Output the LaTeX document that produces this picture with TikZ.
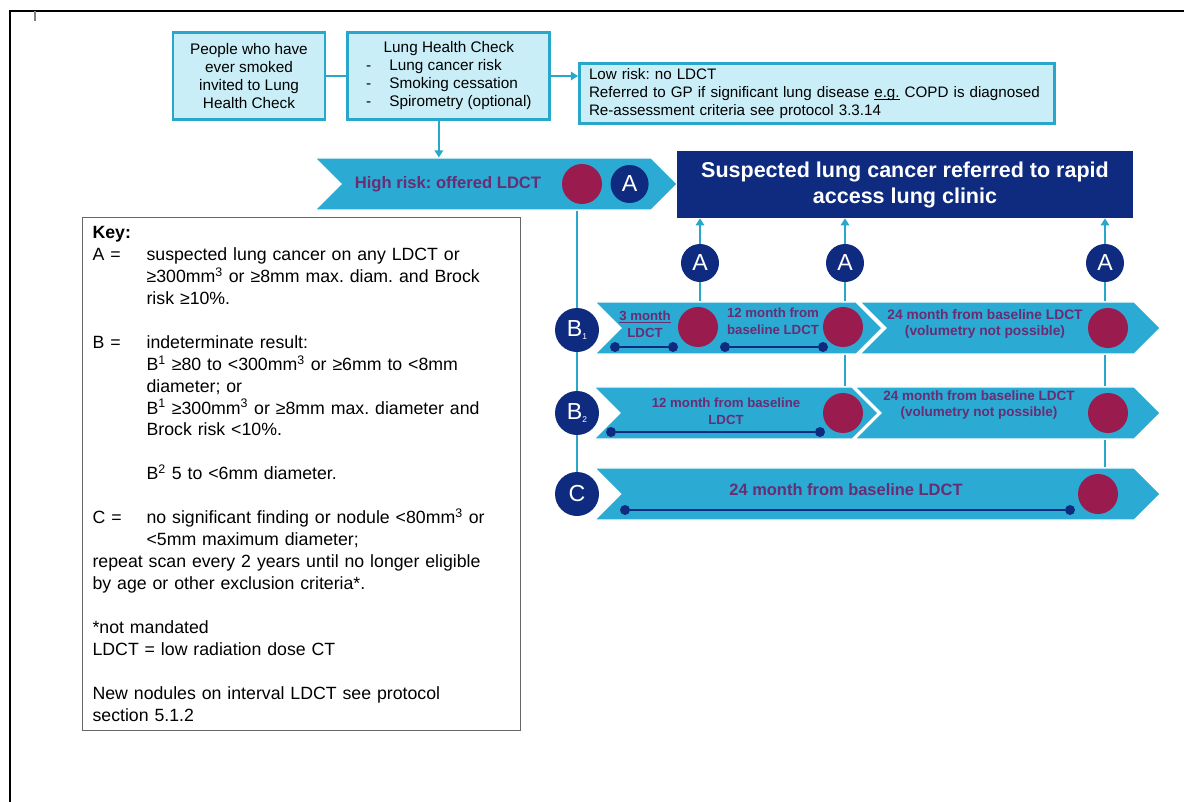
\documentclass[tikz,border=0pt]{standalone}
\usepackage{fontspec}
\setmainfont{Liberation Sans}
\usetikzlibrary{shapes.geometric, shapes.symbols, arrows.meta, positioning}

\definecolor{lightcyan}{HTML}{C9EEF8}
\definecolor{tealline}{HTML}{29A7CB}
\definecolor{chevfill}{HTML}{2BAAD3}
\definecolor{navy}{HTML}{0F2B80}
\definecolor{maroon}{HTML}{9A1C4E}
\definecolor{chevtext}{HTML}{6A2C72}

\newcommand{\keylabel}[1]{\makebox[1.35cm][l]{#1}}
\newcommand{\keyindent}{\hspace*{1.35cm}}
\newcommand{\tinysub}[1]{\raisebox{-0.2ex}{\fontsize{6}{6}\selectfont #1}}
\newcommand{\ulword}[1]{\setbox0\hbox{#1}\rlap{\rule[-1.5pt]{\wd0}{0.5pt}}\box0\relax}

\begin{document}
\frenchspacing
\begin{tikzpicture}[
  x=0.025cm, y=-0.025cm,
  infobox/.style={rectangle, draw=tealline, fill=lightcyan, line width=2pt, font=\fontsize{10.9}{12.8}\selectfont, align=center, inner sep=2pt},
  chevron/.style={signal, signal to=east, signal from=west, signal pointer angle=90, fill=chevfill, draw=white, line width=0.8pt, minimum height=1.3cm, inner sep=0pt},
  bullet/.style={circle, fill=maroon, minimum size=1cm, inner sep=0pt},
  badge/.style={circle, fill=navy, text=white, minimum size=0.95cm, inner sep=0pt, font=\fontsize{16.5}{16.5}\selectfont},
  chevlabel/.style={text=chevtext, font=\bfseries\fontsize{9.4}{11.8}\selectfont, align=center},
  tick/.style={circle, fill=navy, minimum size=0.25cm, inner sep=0pt},
  timeline/.style={draw=navy, line width=1.5pt},
  link/.style={draw=tealline, line width=1.8pt},
  arrow/.style={link, -{Triangle[length=5pt, width=6pt]}}
]
  \useasboundingbox (0,0) rectangle (1184,802);

  % page frame
  \draw[line width=1.1pt] (10,802) -- (10,11) -- (1184,11);
  \draw[gray, line width=1pt] (35,11) -- (35,21);

  % invitation and health check
  \node[infobox, minimum width=3.8cm, minimum height=2.175cm] (smoker) at (249,76) {People who have\\ever smoked\\invited to Lung\\Health Check};
  \node[infobox, minimum width=5.05cm, minimum height=2.175cm, right=0.5cm of smoker] (lhc) {%
    \begin{tabular}{@{}l@{\hspace{0.45cm}}l@{}}
      \multicolumn{2}{c}{Lung Health Check}\\
      - & Lung cancer risk\\
      - & Smoking cessation\\
      - & Spirometry (optional)
    \end{tabular}};
  \node[infobox, align=left, text width=11.4cm, minimum height=1.5cm, inner xsep=0.24cm, font=\fontsize{10.8}{13}\selectfont, anchor=north west] (lowrisk) at (578,62) {Low risk: no LDCT\\Referred to GP if significant lung disease \ulword{e.g.} COPD is diagnosed\\Re-assessment criteria see protocol 3.3.14};

  % high risk and clinic
  \node[chevron, minimum width=9.05cm] (hr) at (496,184) {};
  \node[chevlabel, font=\bfseries\fontsize{11.8}{13}\selectfont] (hrtext) at (448,184) {High risk: offered LDCT};
  \node[bullet] (hrdot) at (582,184) {};
  \node[badge, right=0.2cm of hrdot] (hra) {A};
  \node[rectangle, fill=navy, text=white, minimum width=11.4cm, minimum height=1.675cm, font=\bfseries\fontsize{15.3}{18.5}\selectfont, align=center] (clinic) at (905,184.5) {Suspected lung cancer referred to rapid\\access lung clinic};

  \node[badge] (aone) at (700,263) {A};
  \node[badge] (atwo) at (845,263) {A};
  \node[badge] (athree) at (1105,263) {A};

  % B1 row
  \node[chevron, minimum width=7.175cm] (bonefirst) at (738.5,328) {};
  \node[chevron, minimum width=7.5cm] (bonesecond) at (1010,328) {};
  \node[badge, minimum size=1.1cm] (bone) at (577,330) {B\tinysub{1}};
  \node[chevlabel] (threemonth) at (645,324) {\ulword{3 month}\\LDCT};
  \node[chevlabel] (bonetwelve) at (773,321) {12 month from\\baseline LDCT};
  \node[chevlabel, font=\bfseries\fontsize{9.8}{11.8}\selectfont] (bonetwentyfour) at (985,324) {24 month from baseline LDCT\\(volumetry not possible)};
  \node[bullet] (bonedota) at (698,327) {};
  \node[bullet] (bonedotb) at (843,327) {};
  \node[bullet] (bonedotc) at (1108,328) {};
  \node[tick] (tonea) at (615,347) {};
  \node[tick] (toneb) at (673,347) {};
  \node[tick] (tonec) at (725,347) {};
  \node[tick] (toned) at (823,347) {};
  \draw[timeline] (tonea) -- (toneb);
  \draw[timeline] (tonec) -- (toned);

  % B2 row
  \node[chevron, minimum width=7.1cm] (btwofirst) at (736,413) {};
  \node[chevron, minimum width=7.625cm] (btwosecond) at (1007.5,413) {};
  \node[badge, minimum size=1.1cm] (btwo) at (577,413) {B\tinysub{2}};
  \node[chevlabel] (btwotwelve) at (726,411) {12 month from baseline\\LDCT};
  \node[chevlabel, font=\bfseries\fontsize{9.6}{11.8}\selectfont] (btwotwentyfour) at (979,405) {24 month from baseline LDCT\\(volumetry not possible)};
  \node[bullet] (btwodota) at (843,413) {};
  \node[bullet] (btwodotb) at (1108,413) {};
  \node[tick] (ttwoa) at (611,432) {};
  \node[tick] (ttwob) at (820,432) {};
  \draw[timeline] (ttwoa) -- (ttwob);

  % C row
  \node[chevron, minimum width=14.125cm] (cfull) at (877.5,494) {};
  \node[badge, minimum size=1.1cm] (cee) at (577,494) {C};
  \node[chevlabel, font=\bfseries\fontsize{11.7}{13}\selectfont] (ctext) at (846,490) {24 month from baseline LDCT};
  \node[bullet] (cdot) at (1098,494) {};
  \node[tick] (tca) at (625,510) {};
  \node[tick] (tcb) at (1070,510) {};
  \draw[timeline] (tca) -- (tcb);

  % connectors
  \draw[link] (smoker) -- (lhc);
  \draw[arrow] (lhc.east) -- (lhc.east -| lowrisk.west);
  \draw[arrow] ([xshift=-0.25cm]lhc.south) -- ([xshift=-0.25cm]lhc.south |- hr.north);
  \draw[link] (hr.south -| bone) -- (bone);
  \draw[link] (bone) -- (btwo);
  \draw[link] (btwo) -- (cee);
  \draw[arrow] (aone) -- (aone |- clinic.south);
  \draw[arrow] (atwo) -- (atwo |- clinic.south);
  \draw[arrow] (athree) -- (athree |- clinic.south);
  \draw[link] (aone) -- (aone |- bonefirst.north);
  \draw[link] (atwo) -- (atwo |- bonefirst.north);
  \draw[link] (athree) -- (athree |- bonesecond.north);
  \draw[link] (atwo |- bonefirst.south) -- (atwo |- btwofirst.north);
  \draw[link] (athree |- bonesecond.south) -- (athree |- btwosecond.north);
  \draw[link] (athree |- btwosecond.south) -- (athree |- cfull.north);

  % key
  \node[draw=gray!80!black, line width=0.8pt, anchor=north west, text width=10.45cm, inner xsep=0.25cm, inner ysep=0.22cm, align=left, font=\fontsize{12.6}{15.6}\selectfont] (key) at (82,217) {%
    \textbf{Key:}\\
    \keylabel{A =}suspected lung cancer on any LDCT or\\
    \keyindent ≥300mm\textsuperscript{3} or ≥8mm max. diam. and Brock\\
    \keyindent risk ≥10\%.\\[15.6pt]
    \keylabel{B =}indeterminate result:\\
    \keyindent B\textsuperscript{1} ≥80 to <300mm\textsuperscript{3} or ≥6mm to <8mm\\
    \keyindent diameter; or\\
    \keyindent B\textsuperscript{1} ≥300mm\textsuperscript{3} or ≥8mm max. diameter and\\
    \keyindent Brock risk <10\%.\\[15.6pt]
    \keyindent B\textsuperscript{2} 5 to <6mm diameter.\\[15.6pt]
    \keylabel{C =}no significant finding or nodule <80mm\textsuperscript{3} or\\
    \keyindent <5mm maximum diameter;\\
    repeat scan every 2 years until no longer eligible\\
    by age or other exclusion criteria*.\\[15.6pt]
    *not mandated\\
    LDCT = low radiation dose CT\\[15.6pt]
    New nodules on interval LDCT see protocol\\
    section 5.1.2};
\end{tikzpicture}
\end{document}
